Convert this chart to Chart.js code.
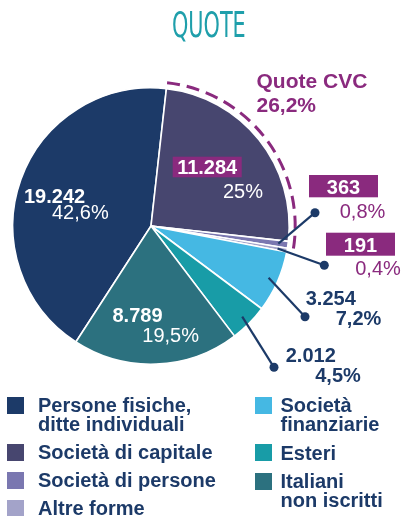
<!DOCTYPE html>
<html>
<head>
<meta charset="utf-8">
<script src="https://cdn.jsdelivr.net/npm/chart.js@4/dist/chart.umd.min.js"></script>
<style>
  html, body { margin: 0; padding: 0; background: #fff; }
  #wrap { position: relative; width: 404px; height: 516px; overflow: hidden; }
  #chart { position: absolute; left: 0; top: 0; }
  #title {
    position: absolute; left: 7px; width: 404px; top: 8px; text-align: center;
    font-family: "Liberation Sans Narrow", "DejaVu Sans Condensed", sans-serif;
    font-size: 35px; line-height: 35px; color: #1f9fab;
  }
  #title span { display: inline-block; transform: scaleX(0.66); }
  .leg {
    position: absolute; white-space: nowrap; color: #1c3a68;
    font: bold 20px "Liberation Sans", Arial, sans-serif; line-height: 19px;
  }
  .sw { position: absolute; width: 17px; height: 17px; }
</style>
</head>
<body>
<div id="wrap">
  <canvas id="chart" width="404" height="516"></canvas>
  <div id="title"><span>QUOTE</span></div>
  <div id="legend"></div>
</div>
<script>
// ---- data ----
const categories = [
  'Persone fisiche, ditte individuali',
  'Società di capitale',
  'Società di persone',
  'Altre forme',
  'Società finanziarie',
  'Esteri',
  'Italiani non iscritti'
];
const legendLines = [
  ['Persone fisiche,', 'ditte individuali'],
  ['Società di capitale'],
  ['Società di persone'],
  ['Altre forme'],
  ['Società', 'finanziarie'],
  ['Esteri'],
  ['Italiani', 'non iscritti']
];
const values = [19242, 11284, 363, 191, 3254, 2012, 8789];
const percentLabels = ['42,6%', '25%', '0,8%', '0,4%', '7,2%', '4,5%', '19,5%'];
const cvcMembers = ['Società di capitale', 'Società di persone', 'Altre forme'];
const cvcTitle = 'Quote CVC';
const cvcShare = '26,2%';

// ---- styling ----
const colors = ['#1c3a68', '#47466f', '#7a77b0', '#a3a3c9', '#45b8e3', '#189ca7', '#2c717f'];
const NAVY = '#1c3a68';
const PURPLE = '#8a2a7e';
const FONT = '"Liberation Sans", Arial, sans-serif';

// Angle (degrees clockwise from 12 o'clock) where the second slice begins.
const SECOND_SLICE_START = 6.4;
const total = values.reduce((a, b) => a + b, 0);
const rotation = SECOND_SLICE_START - values[0] / total * 360;

// Label placement per slice: text anchors, optional box, optional leader dot
const labelLayout = [
  { num: [24, 203], pct: [52, 219], color: '#fff' },
  { box: [172.7, 156.7, 69, 20.6], numBase: 173.8, pct: [223, 198], color: '#fff' },
  { box: [309, 175, 69, 22.3], numBase: 193.5, pct: [339.7, 218.3], color: PURPLE, dot: [315, 212.7] },
  { box: [326, 232.7, 69, 23], numBase: 251.9, pct: [355.2, 275], color: PURPLE, dot: [324.3, 265.3] },
  { num: [305.7, 305], pct: [335.7, 325], color: NAVY, dot: [305, 316.7] },
  { num: [285.7, 361.7], pct: [315.2, 381.7], color: NAVY, dot: [274, 367.3] },
  { num: [112.5, 321.7], pct: [142.3, 341.7], color: '#fff' }
];
const cvcTextPos = [[256.5, 87.7], [256.5, 111.7]];

// Legend: order of entries, column x positions, baselines
const legendCols = [
  { sw: 7, text: 38, items: [0, 1, 2, 3], baselines: [412.7, 459.5, 487.5, 515.2] },
  { sw: 255, text: 280.5, items: [4, 5, 6], baselines: [412.7, 460, 488.3] }
];

function fmt(v) {
  return String(v).replace(/\B(?=(\d{3})+(?!\d))/g, '.');
}

const annotate = {
  id: 'annotate',
  afterDatasetsDraw(chart) {
    const ctx = chart.ctx;
    const arcs = chart.getDatasetMeta(0).data;

    // dashed ring around the CVC slices
    const idx = cvcMembers.map(c => categories.indexOf(c));
    const a0 = arcs[idx[0]], a1 = arcs[idx[idx.length - 1]];
    ctx.save();
    ctx.beginPath();
    ctx.arc(a0.x, a0.y, a0.outerRadius + 6, a0.startAngle, a1.endAngle);
    ctx.setLineDash([13, 7]);
    ctx.lineWidth = 3;
    ctx.strokeStyle = PURPLE;
    ctx.stroke();
    ctx.restore();

    // leader lines from slices to outside labels
    labelLayout.forEach((L, i) => {
      if (!L.dot) return;
      const a = arcs[i];
      const mid = (a.startAngle + a.endAngle) / 2;
      const r = a.outerRadius * 0.93;
      const sx = a.x + Math.cos(mid) * r, sy = a.y + Math.sin(mid) * r;
      ctx.save();
      ctx.strokeStyle = NAVY;
      ctx.fillStyle = NAVY;
      ctx.lineWidth = 2.2;
      ctx.beginPath();
      ctx.moveTo(sx, sy);
      ctx.lineTo(L.dot[0], L.dot[1]);
      ctx.stroke();
      ctx.beginPath();
      ctx.arc(L.dot[0], L.dot[1], 4.5, 0, Math.PI * 2);
      ctx.fill();
      ctx.restore();
    });

    // value and percentage labels
    ctx.save();
    ctx.textBaseline = 'alphabetic';
    labelLayout.forEach((L, i) => {
      const numText = fmt(values[i]);
      ctx.font = 'bold 20px ' + FONT;
      if (L.box) {
        const [bx, by, bw, bh] = L.box;
        ctx.fillStyle = PURPLE;
        ctx.fillRect(bx, by, bw, bh);
        ctx.fillStyle = '#fff';
        ctx.textAlign = 'center';
        ctx.fillText(numText, bx + bw / 2, L.numBase);
      } else {
        ctx.fillStyle = L.color;
        ctx.textAlign = 'left';
        ctx.fillText(numText, L.num[0], L.num[1]);
      }
      ctx.textAlign = 'left';
      ctx.fillStyle = L.color;
      ctx.font = (L.color === NAVY ? 'bold ' : '') + '20px ' + FONT;
      ctx.fillText(percentLabels[i], L.pct[0], L.pct[1]);
    });

    // CVC group caption
    ctx.fillStyle = PURPLE;
    ctx.font = 'bold 21px ' + FONT;
    ctx.fillText(cvcTitle, cvcTextPos[0][0], cvcTextPos[0][1]);
    ctx.fillText(cvcShare, cvcTextPos[1][0], cvcTextPos[1][1]);
    ctx.restore();
  }
};

new Chart(document.getElementById('chart'), {
  type: 'pie',
  data: {
    labels: categories,
    datasets: [{
      data: values,
      backgroundColor: colors,
      borderColor: '#ffffff',
      borderWidth: 1.6,
      hoverOffset: 0,
      offset: 0
    }]
  },
  options: {
    responsive: false,
    animation: false,
    rotation: rotation,
    layout: { padding: { left: 12, top: 87, right: 114, bottom: 151 } },
    plugins: {
      legend: { display: false },
      tooltip: { enabled: false },
      title: { display: false }
    },
    events: []
  },
  plugins: [annotate]
});

// HTML legend
const legendEl = document.getElementById('legend');
legendCols.forEach(col => {
  col.items.forEach((ci, k) => {
    const base = col.baselines[k];
    const sw = document.createElement('div');
    sw.className = 'sw';
    sw.style.left = col.sw + 'px';
    sw.style.top = (base - 15.7) + 'px';
    sw.style.background = colors[ci];
    legendEl.appendChild(sw);
    const t = document.createElement('div');
    t.className = 'leg';
    t.style.left = col.text + 'px';
    t.style.top = (base - 16.4) + 'px';
    t.innerHTML = legendLines[ci].join('<br>');
    legendEl.appendChild(t);
  });
});
</script>
</body>
</html>
